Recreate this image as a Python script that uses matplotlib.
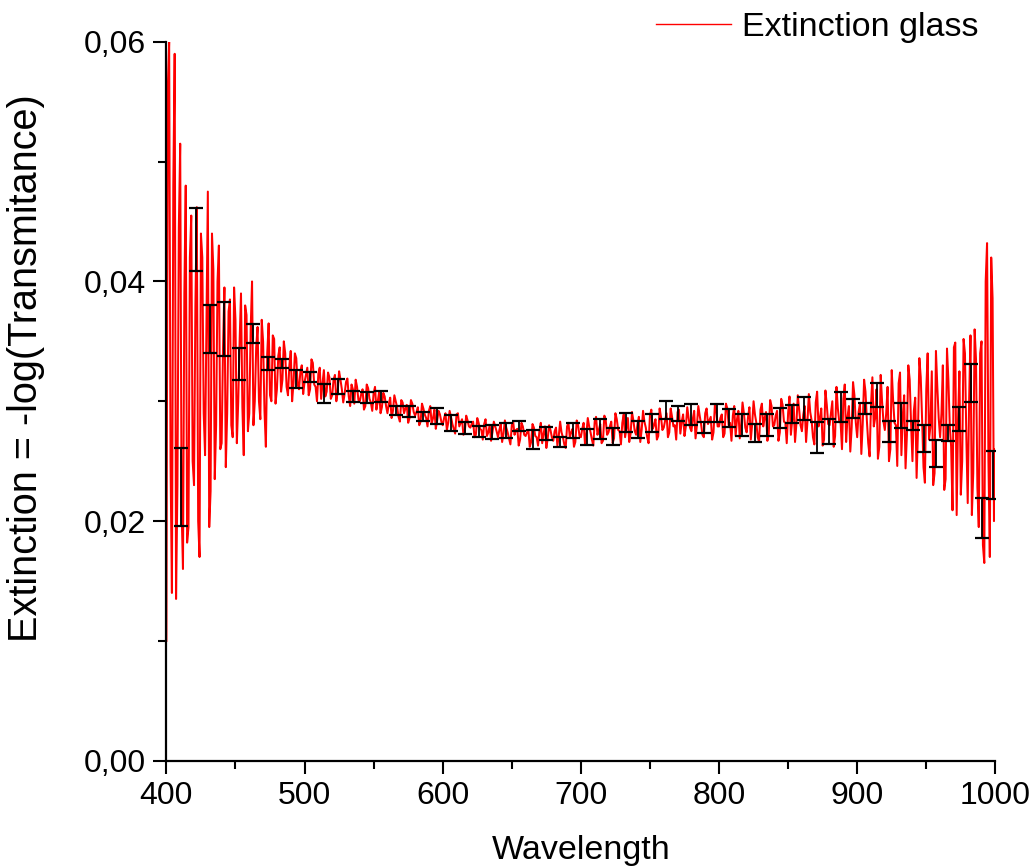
import numpy as np
import matplotlib
matplotlib.use("Agg")
import matplotlib.pyplot as plt
from matplotlib.ticker import MultipleLocator, FuncFormatter

# extinction, even wavelengths 400, 402, ... 1000 nm
ext_even = [
    0.0100, 0.0600, 0.0140, 0.0590, 0.0230, 0.0515, 0.0160, 0.0480, 0.0195, 0.0455,  # 400
    0.0230, 0.0462, 0.0170, 0.0420, 0.0255, 0.0475, 0.0225, 0.0410, 0.0280, 0.0430,  # 420
    0.0265, 0.0395, 0.0290, 0.0385, 0.0270, 0.0368, 0.0300, 0.0390, 0.0255, 0.0372,  # 440
    0.0290, 0.0400, 0.0300, 0.0362, 0.0285, 0.0350, 0.0262, 0.0365, 0.0300, 0.0352,  # 460
    0.0310, 0.0345, 0.0318, 0.0340, 0.0305, 0.0342, 0.0315, 0.0336, 0.0310, 0.0330,  # 480
    0.0316, 0.0328, 0.0310, 0.0332, 0.0312, 0.0323, 0.0302, 0.0326, 0.0308, 0.0320,  # 500
    0.0305, 0.0322, 0.0308, 0.0318, 0.0299, 0.0316, 0.0304, 0.0314, 0.0298, 0.0312,  # 520
    0.0300, 0.0310, 0.0296, 0.0311, 0.0299, 0.0307, 0.0293, 0.0308, 0.0295, 0.0304,  # 540
    0.0290, 0.0303, 0.0292, 0.0300, 0.0287, 0.0301, 0.0290, 0.0297, 0.0286, 0.0298,  # 560
    0.0288, 0.0295, 0.0283, 0.0294, 0.0286, 0.0292, 0.0281, 0.0293, 0.0284, 0.0289,  # 580
    0.0280, 0.0290, 0.0282, 0.0287, 0.0277, 0.0289, 0.0279, 0.0285, 0.0275, 0.0284,  # 600
    0.0278, 0.0283, 0.0272, 0.0282, 0.0276, 0.0281, 0.0271, 0.0280, 0.0274, 0.0279,  # 620
    0.0270, 0.0281, 0.0273, 0.0278, 0.0269, 0.0280, 0.0272, 0.0277, 0.0268, 0.0279,  # 640
    0.0271, 0.0276, 0.0266, 0.0278, 0.0270, 0.0275, 0.0265, 0.0279, 0.0269, 0.0276,  # 660
    0.0267, 0.0278, 0.0271, 0.0274, 0.0264, 0.0279, 0.0270, 0.0277, 0.0266, 0.0280,  # 680
    0.0270, 0.0282, 0.0273, 0.0279, 0.0268, 0.0283, 0.0272, 0.0281, 0.0267, 0.0284,  # 700
    0.0274, 0.0283, 0.0269, 0.0285, 0.0275, 0.0282, 0.0270, 0.0286, 0.0273, 0.0284,  # 720
    0.0272, 0.0287, 0.0276, 0.0283, 0.0270, 0.0288, 0.0277, 0.0285, 0.0271, 0.0287,  # 740
    0.0278, 0.0290, 0.0274, 0.0287, 0.0280, 0.0291, 0.0273, 0.0289, 0.0279, 0.0286,  # 760
    0.0275, 0.0292, 0.0280, 0.0288, 0.0272, 0.0290, 0.0281, 0.0287, 0.0274, 0.0293,  # 780
    0.0279, 0.0289, 0.0273, 0.0294, 0.0282, 0.0288, 0.0271, 0.0292, 0.0280, 0.0290,  # 800
    0.0274, 0.0295, 0.0281, 0.0289, 0.0270, 0.0293, 0.0279, 0.0291, 0.0273, 0.0296,  # 820
    0.0280, 0.0292, 0.0274, 0.0297, 0.0282, 0.0290, 0.0272, 0.0298, 0.0281, 0.0293,  # 840
    0.0275, 0.0296, 0.0283, 0.0291, 0.0270, 0.0299, 0.0279, 0.0294, 0.0268, 0.0297,  # 860
    0.0280, 0.0300, 0.0271, 0.0294, 0.0282, 0.0302, 0.0266, 0.0296, 0.0278, 0.0305,  # 880
    0.0270, 0.0298, 0.0281, 0.0308, 0.0265, 0.0297, 0.0279, 0.0310, 0.0262, 0.0300,  # 900
    0.0276, 0.0312, 0.0260, 0.0301, 0.0280, 0.0315, 0.0255, 0.0305, 0.0272, 0.0318,  # 920
    0.0250, 0.0303, 0.0275, 0.0320, 0.0245, 0.0310, 0.0268, 0.0325, 0.0240, 0.0312,  # 940
    0.0270, 0.0330, 0.0235, 0.0318, 0.0262, 0.0345, 0.0205, 0.0325, 0.0250, 0.0340,  # 960
    0.0215, 0.0355, 0.0240, 0.0335, 0.0195, 0.0350, 0.0165, 0.0432, 0.0170, 0.0386,  # 980
    0.0260,                                                                          # 1000
]

# odd wavelengths 401, 403, ... 999 nm
ext_odd = [
    0.0560, 0.0250, 0.0480, 0.0135, 0.0445, 0.0210, 0.0390, 0.0182, 0.0420, 0.0250,  # 401
    0.0380, 0.0200, 0.0440, 0.0290, 0.0365, 0.0195, 0.0440, 0.0235, 0.0400, 0.0260,  # 421
    0.0345, 0.0245, 0.0375, 0.0280, 0.0395, 0.0265, 0.0350, 0.0295, 0.0380, 0.0275,  # 441
    0.0360, 0.0280, 0.0345, 0.0300, 0.0368, 0.0292, 0.0340, 0.0305, 0.0355, 0.0298,  # 461
    0.0338, 0.0308, 0.0350, 0.0312, 0.0330, 0.0300, 0.0340, 0.0314, 0.0325, 0.0306,  # 481
    0.0322, 0.0305, 0.0335, 0.0314, 0.0300, 0.0328, 0.0315, 0.0304, 0.0324, 0.0302,  # 501
    0.0318, 0.0300, 0.0325, 0.0310, 0.0306, 0.0319, 0.0296, 0.0310, 0.0318, 0.0301,  # 521
    0.0306, 0.0293, 0.0314, 0.0302, 0.0292, 0.0312, 0.0300, 0.0290, 0.0307, 0.0296,  # 541
    0.0298, 0.0286, 0.0305, 0.0295, 0.0283, 0.0299, 0.0294, 0.0282, 0.0301, 0.0291,  # 561
    0.0291, 0.0280, 0.0298, 0.0289, 0.0279, 0.0296, 0.0286, 0.0277, 0.0292, 0.0283,  # 581
    0.0286, 0.0276, 0.0292, 0.0281, 0.0273, 0.0290, 0.0282, 0.0272, 0.0288, 0.0279,  # 601
    0.0281, 0.0270, 0.0286, 0.0277, 0.0268, 0.0285, 0.0274, 0.0267, 0.0283, 0.0275,  # 621
    0.0276, 0.0266, 0.0284, 0.0274, 0.0264, 0.0283, 0.0276, 0.0263, 0.0282, 0.0272,  # 641
    0.0274, 0.0262, 0.0281, 0.0271, 0.0263, 0.0282, 0.0273, 0.0261, 0.0280, 0.0270,  # 661
    0.0275, 0.0263, 0.0283, 0.0270, 0.0261, 0.0282, 0.0274, 0.0262, 0.0284, 0.0271,  # 681
    0.0277, 0.0264, 0.0286, 0.0274, 0.0263, 0.0287, 0.0276, 0.0265, 0.0288, 0.0272,  # 701
    0.0279, 0.0265, 0.0290, 0.0276, 0.0264, 0.0289, 0.0278, 0.0266, 0.0291, 0.0275,  # 721
    0.0281, 0.0266, 0.0292, 0.0278, 0.0265, 0.0293, 0.0280, 0.0268, 0.0294, 0.0276,  # 741
    0.0284, 0.0270, 0.0294, 0.0279, 0.0268, 0.0293, 0.0283, 0.0271, 0.0295, 0.0278,  # 761
    0.0285, 0.0269, 0.0296, 0.0281, 0.0270, 0.0294, 0.0284, 0.0268, 0.0297, 0.0279,  # 781
    0.0286, 0.0270, 0.0298, 0.0280, 0.0267, 0.0296, 0.0285, 0.0269, 0.0299, 0.0278,  # 801
    0.0287, 0.0268, 0.0300, 0.0282, 0.0266, 0.0298, 0.0286, 0.0267, 0.0301, 0.0279,  # 821
    0.0288, 0.0267, 0.0302, 0.0283, 0.0265, 0.0304, 0.0285, 0.0266, 0.0305, 0.0280,  # 841
    0.0289, 0.0266, 0.0306, 0.0284, 0.0264, 0.0308, 0.0286, 0.0263, 0.0309, 0.0281,  # 861
    0.0290, 0.0262, 0.0312, 0.0283, 0.0260, 0.0314, 0.0287, 0.0258, 0.0316, 0.0282,  # 881
    0.0291, 0.0256, 0.0318, 0.0284, 0.0254, 0.0320, 0.0286, 0.0252, 0.0322, 0.0283,  # 901
    0.0290, 0.0250, 0.0326, 0.0282, 0.0246, 0.0324, 0.0288, 0.0244, 0.0330, 0.0281,  # 921
    0.0292, 0.0236, 0.0336, 0.0284, 0.0232, 0.0340, 0.0279, 0.0230, 0.0342, 0.0286,  # 941
    0.0290, 0.0226, 0.0344, 0.0280, 0.0209, 0.0349, 0.0285, 0.0222, 0.0352, 0.0270,  # 961
    0.0300, 0.0205, 0.0360, 0.0228, 0.0340, 0.0180, 0.0400, 0.0250, 0.0420, 0.0200,  # 981
]

# error bars (every ~10 nm)
err_wavelength = [410.6, 421.1, 431.6, 441.7, 452.2, 462.7, 473.2, 483.7, 493.8, 503.9,
                  514.3, 524.4, 534.8, 545.0, 555.3, 566.0, 575.8, 585.9, 596.1, 606.0,
                  616.1, 626.0, 636.0, 645.8, 655.4, 665.6, 675.1, 684.9, 694.5, 704.2,
                  713.8, 723.0, 732.7, 741.3, 751.7, 761.4, 770.5, 779.7, 789.1, 798.3,
                  807.4, 816.8, 826.0, 834.9, 844.1, 852.8, 861.7, 870.7, 879.6, 888.3,
                  897.2, 905.8, 914.5, 923.0, 931.5, 940.2, 948.6, 957.0, 965.5, 973.9,
                  982.4, 990.6, 998.5]
err_center = [0.02286, 0.04349, 0.03604, 0.03605, 0.03312, 0.03567, 0.03316, 0.03314, 0.03187, 0.03205,
              0.03065, 0.03121, 0.03037, 0.03029, 0.03037, 0.02921, 0.02914, 0.02871, 0.02878, 0.02818,
              0.02774, 0.02750, 0.02742, 0.02755, 0.02796, 0.02679, 0.02730, 0.02662, 0.02755, 0.02699,
              0.02767, 0.02706, 0.02823, 0.02765, 0.02817, 0.02927, 0.02899, 0.02889, 0.02778, 0.02904,
              0.02860, 0.02802, 0.02732, 0.02803, 0.02858, 0.02893, 0.02938, 0.02695, 0.02749, 0.02955,
              0.02937, 0.02939, 0.03055, 0.02750, 0.02884, 0.02795, 0.02692, 0.02565, 0.02737, 0.02853,
              0.03152, 0.02026, 0.02384]
err_size = [0.00325, 0.00265, 0.00203, 0.00225, 0.00131, 0.00081, 0.00056, 0.00036, 0.00074, 0.00042,
            0.00077, 0.00063, 0.00046, 0.00046, 0.00046, 0.00036, 0.00043, 0.00039, 0.00068, 0.00064,
            0.00050, 0.00046, 0.00057, 0.00064, 0.00042, 0.00078, 0.00053, 0.00042, 0.00064, 0.00067,
            0.00082, 0.00071, 0.00082, 0.00069, 0.00076, 0.00078, 0.00064, 0.00088, 0.00046, 0.00075,
            0.00073, 0.00089, 0.00075, 0.00091, 0.00083, 0.00072, 0.00095, 0.00129, 0.00103, 0.00124,
            0.00079, 0.00043, 0.00100, 0.00088, 0.00104, 0.00038, 0.00113, 0.00111, 0.00067, 0.00101,
            0.00156, 0.00164, 0.00200]

# merge even and odd samples into one 1 nm spectrum
wavelength = np.arange(400, 1001, 1)
extinction = np.empty(len(wavelength))
extinction[0::2] = ext_even
extinction[1::2] = ext_odd

plt.rcParams['font.family'] = ['Liberation Sans', 'DejaVu Sans']

fig = plt.figure(figsize=(10.29, 8.66), dpi=100)
ax = fig.add_axes([0.1617, 0.1216, 0.8056, 0.8301])

ax.plot(wavelength, extinction, color='#ff0000', lw=1.45, label='Extinction glass', zorder=2)
ax.errorbar(err_wavelength, err_center, yerr=err_size, fmt='none', ecolor='black',
            elinewidth=1.3, capsize=5, capthick=1.6, zorder=3)

# axes
ax.set_xlim(400, 1000)
ax.set_ylim(0, 0.06)
for side in ['top', 'right']:
    ax.spines[side].set_visible(False)
for side in ['left', 'bottom']:
    ax.spines[side].set_linewidth(1.6)

ax.xaxis.set_major_locator(MultipleLocator(100))
ax.xaxis.set_minor_locator(MultipleLocator(50))
ax.yaxis.set_major_locator(MultipleLocator(0.02))
ax.yaxis.set_minor_locator(MultipleLocator(0.01))
ax.yaxis.set_major_formatter(FuncFormatter(lambda v, p: f'{v:.2f}'.replace('.', ',')))
ax.tick_params(which='major', direction='out', length=9.5, width=1.5, labelsize=23, pad=5)
ax.tick_params(which='minor', direction='out', length=5.5, width=1.5)

ax.set_xlabel('Wavelength', fontsize=24.5)
ax.xaxis.set_label_coords(0.5, -0.104)
ax.set_ylabel('Extinction = -log(Transmitance)', fontsize=28.5)
ax.yaxis.set_label_coords(-0.146, 0.546)

leg = ax.legend(loc='upper right', bbox_to_anchor=(978 / 1029, 0.986), bbox_transform=fig.transFigure,
                frameon=False, fontsize=24.5, handlelength=2.2, handletextpad=0.3,
                borderpad=0, borderaxespad=0)
leg.get_lines()[0].set_linewidth(1.0)

fig.savefig('out.png', dpi=100)
